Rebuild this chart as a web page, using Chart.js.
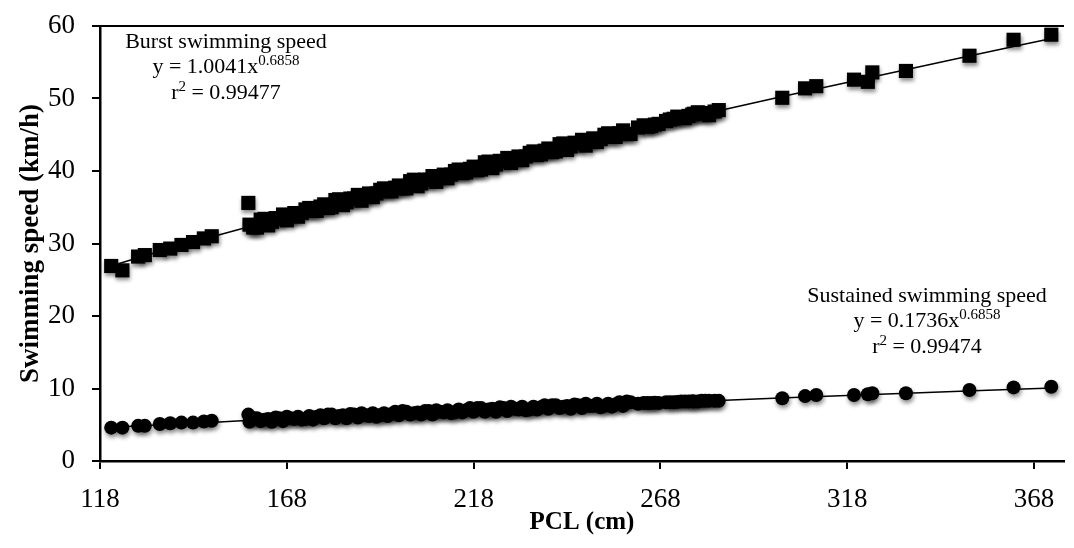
<!DOCTYPE html>
<html>
<head>
<meta charset="utf-8">
<script src="https://cdn.jsdelivr.net/npm/chart.js@4.4.1/dist/chart.umd.min.js"></script>
<style>
  html, body { margin: 0; padding: 0; background: #fff; }
</style>
</head>
<body>
<canvas id="chart" width="1074" height="548"></canvas>
<script>
// ═══ DATA ═══
// PCL of each fish, cm
const pcl = [
  121, 124, 128.2, 130, 134, 136.8, 139.8, 142.9, 145.8, 147.9, 157.7,
  158, 160, 162, 164, 166, 168, 170, 172, 174, 176, 178, 180, 182, 184, 186, 188, 190,
  192, 194, 196, 198, 200, 202, 204, 206, 208, 210, 212, 214, 216, 218, 220, 222, 224,
  226, 228, 230, 232, 234, 236, 238, 240, 242, 244, 246, 248, 250, 252, 254, 256, 258, 260,
  159, 161, 163, 165, 167, 169, 171, 173, 175, 177, 179, 181, 183, 185, 187, 189, 191,
  193, 195, 197, 199, 201, 203, 205, 207, 209, 211, 213, 215, 217, 219, 221, 223, 225,
  227, 229, 231, 233, 235, 237, 239, 241, 243, 245, 247, 249, 251, 253, 255, 257, 259,
  262, 263.5, 264.5, 265.5, 266.5, 267.5, 269.5, 270.5, 271.5, 272.5, 273.5, 274.5, 275.5, 276.5,
  277, 278, 279, 280, 281, 282.5, 283.6,
  300.6, 306.7, 309.7, 319.8, 323.5, 324.7, 333.7, 350.7, 362.5, 372.6
];
// burst swimming speed, km/h
const burst = [
  26.9, 26.3, 28.2, 28.4, 29.1, 29.3, 29.8, 30.2, 30.7, 31.0, 35.6,
  32.6, 32.2, 33.4, 33.0, 33.4, 33.2, 34.2, 34.2, 34.9, 34.5, 35.4, 35.0, 36.1, 35.7, 36.2, 35.9, 36.9,
  36.9, 37.6, 37.2, 38.0, 37.6, 38.8, 38.3, 38.8, 38.5, 39.5, 39.5, 40.2, 39.8, 40.6, 40.2, 41.3, 40.9,
  41.3, 41.1, 42.0, 42.0, 42.7, 42.3, 43.1, 42.7, 43.8, 43.4, 43.8, 43.5, 44.5, 44.4, 45.2, 44.7, 45.6, 45.1,
  32.2, 33.3, 32.5, 33.5, 34.0, 33.8, 33.7, 34.7, 34.5, 35.1, 34.9, 36.0, 35.3, 36.2, 36.7, 36.5, 36.4,
  37.4, 37.2, 37.7, 37.6, 38.6, 37.9, 38.8, 39.3, 39.1, 39.0, 40.0, 39.7, 40.3, 40.1, 41.2, 40.4, 41.4,
  41.8, 41.6, 41.5, 42.5, 42.2, 42.8, 42.6, 43.7, 42.9, 43.9, 44.3, 44.1, 44.0, 45.0, 44.7, 45.2, 45.1,
  46.0, 46.3, 46.1, 46.2, 46.4, 46.5, 46.9, 47.1, 47.2, 47.5, 47.4, 47.3, 47.6, 47.8,
  47.9, 48.1, 48.0, 47.9, 47.7, 48.2, 48.4,
  50.1, 51.4, 51.7, 52.6, 52.3, 53.6, 53.8, 55.9, 58.1, 58.8
];
// sustained swimming speed, km/h
const sustained = [
  4.6, 4.6, 4.85, 4.85, 5.1, 5.2, 5.3, 5.3, 5.45, 5.55, 6.4,
  5.4, 5.9, 5.7, 5.4, 5.9, 6.1, 5.8, 5.7, 6.2, 6.1, 5.9, 6.4, 6.2, 5.9, 6.4, 6.6, 6.2,
  6.1, 6.6, 6.5, 6.3, 6.8, 6.6, 6.4, 6.9, 7.0, 6.7, 6.6, 7.1, 7.0, 6.8, 7.3, 7.1, 6.8,
  7.3, 7.5, 7.1, 7.0, 7.5, 7.4, 7.2, 7.7, 7.5, 7.2, 7.7, 7.9, 7.6, 7.4, 7.9, 7.8, 7.6, 8.1,
  5.9, 5.5, 5.8, 6.0, 5.5, 5.9, 6.1, 5.8, 5.7, 6.3, 6.4, 5.9, 6.3, 6.5, 6.0, 6.3, 6.6,
  6.3, 6.2, 6.8, 6.9, 6.4, 6.7, 6.9, 6.4, 6.8, 7.0, 6.7, 6.7, 7.3, 7.3, 6.8, 7.2, 7.4,
  6.9, 7.2, 7.5, 7.1, 7.1, 7.7, 7.7, 7.3, 7.6, 7.8, 7.3, 7.6, 7.9, 7.6, 7.5, 8.1, 8.2,
  7.9, 8.0, 8.0, 8.0, 8.05, 8.0, 8.1, 8.1, 8.1, 8.15, 8.2, 8.2, 8.2, 8.25,
  8.2, 8.2, 8.3, 8.3, 8.3, 8.3, 8.3,
  8.65, 8.95, 9.1, 9.1, 9.2, 9.35, 9.35, 9.8, 10.15, 10.25
];

// trend lines
const fitX = [121, 130, 140, 150, 160, 180, 200, 225, 250, 275, 300, 325, 350, 373];
const burstFit = [26.9, 28.3, 29.8, 31.2, 32.6, 35.4, 38.0, 41.2, 44.3, 47.3, 50.2, 53.0, 55.8, 58.3];
const sustainedFit = [4.65, 4.89, 5.15, 5.39, 5.64, 6.11, 6.57, 7.12, 7.66, 8.17, 8.68, 9.17, 9.65, 10.08];

const xTicks = [118, 168, 218, 268, 318, 368];
const yTicks = [0, 10, 20, 30, 40, 50, 60];

const pts = (xs, ys) => xs.map((x, i) => ({ x: x, y: ys[i] }));

// ═══ PLUGINS ═══
// soft drop shadow under the markers
const markerShadow = {
  id: 'markerShadow',
  beforeDatasetDraw(chart, args) {
    const ds = chart.data.datasets[args.index];
    if (!ds.shadow) return;
    const ctx = chart.ctx;
    ctx.save();
    ctx.shadowColor = 'rgba(0,0,0,0.45)';
    ctx.shadowBlur = 4;
    ctx.shadowOffsetX = 1;
    ctx.shadowOffsetY = 3;
  },
  afterDatasetDraw(chart, args) {
    const ds = chart.data.datasets[args.index];
    if (ds.shadow) chart.ctx.restore();
  }
};

// text with superscripts, centred on cx
function drawParts(ctx, cx, base, parts) {
  const mainFont = '22px "Liberation Serif", serif';
  const supFont = '15px "Liberation Serif", serif';
  let total = 0;
  parts.forEach(p => {
    ctx.font = p.sup ? supFont : mainFont;
    p.w = ctx.measureText(p.t).width;
    total += p.w;
  });
  let x = cx - total / 2;
  parts.forEach(p => {
    ctx.font = p.sup ? supFont : mainFont;
    ctx.fillText(p.t, x, p.sup ? base - 8 : base);
    x += p.w;
  });
}

// top frame line + equation labels
const notes = {
  id: 'notes',
  afterDraw(chart) {
    const { ctx, chartArea } = chart;
    ctx.save();
    ctx.strokeStyle = '#000';
    ctx.lineWidth = 2;
    ctx.beginPath();
    ctx.moveTo(chartArea.left - 1, chartArea.top);
    ctx.lineTo(chartArea.right, chartArea.top);
    ctx.stroke();

    ctx.fillStyle = '#000';
    ctx.textAlign = 'left';
    ctx.textBaseline = 'alphabetic';
    drawParts(ctx, 226, 48, [{ t: 'Burst swimming speed' }]);
    drawParts(ctx, 226, 73, [{ t: 'y = 1.0041x' }, { t: '0.6858', sup: true }]);
    drawParts(ctx, 226, 99, [{ t: 'r' }, { t: '2', sup: true }, { t: ' = 0.99477' }]);

    drawParts(ctx, 927, 302, [{ t: 'Sustained swimming speed' }]);
    drawParts(ctx, 927, 327, [{ t: 'y = 0.1736x' }, { t: '0.6858', sup: true }]);
    drawParts(ctx, 927, 353, [{ t: 'r' }, { t: '2', sup: true }, { t: ' = 0.99474' }]);
    ctx.restore();
  }
};

// ═══ CHART ═══
new Chart(document.getElementById('chart'), {
  type: 'scatter',
  data: {
    datasets: [
      {
        label: 'Burst fit', type: 'line', data: pts(fitX, burstFit),
        borderColor: '#000', borderWidth: 1.5, pointRadius: 0,
        cubicInterpolationMode: 'monotone', fill: false, order: 0
      },
      {
        label: 'Sustained fit', type: 'line', data: pts(fitX, sustainedFit),
        borderColor: '#000', borderWidth: 1.5, pointRadius: 0,
        cubicInterpolationMode: 'monotone', fill: false, order: 0
      },
      {
        label: 'Burst swimming speed', data: pts(pcl, burst), shadow: true,
        pointStyle: 'rect', pointRadius: 10, backgroundColor: '#000',
        borderColor: '#000', borderWidth: 0, order: 1
      },
      {
        label: 'Sustained swimming speed', data: pts(pcl, sustained), shadow: true,
        pointStyle: 'circle', pointRadius: 7, backgroundColor: '#000',
        borderColor: '#000', borderWidth: 0, order: 1
      }
    ]
  },
  options: {
    responsive: false,
    animation: false,
    layout: { padding: { top: 26, right: -1, left: 0, bottom: 0 } },
    plugins: { legend: { display: false }, tooltip: { enabled: false } },
    scales: {
      x: {
        type: 'linear', min: 118, max: 376,
        afterBuildTicks: s => { s.ticks = xTicks.map(v => ({ value: v })); },
        afterFit: s => { s.height = 87; s.paddingLeft = 0; s.paddingRight = 0; },
        grid: { drawOnChartArea: false, drawTicks: true, tickLength: 8, color: '#000', lineWidth: 2 },
        border: { display: true, color: '#000', width: 2.5 },
        ticks: { color: '#000', padding: 15, font: { family: '"Liberation Serif", serif', size: 27 } },
        title: {
          display: true, text: 'PCL (cm)', color: '#000',
          padding: { top: 0, bottom: 10 },
          font: { family: '"Liberation Serif", serif', size: 25, weight: 'bold' }
        }
      },
      y: {
        type: 'linear', min: 0, max: 60,
        afterBuildTicks: s => { s.ticks = yTicks.map(v => ({ value: v })); },
        afterFit: s => { s.width = 100; s.paddingTop = 0; s.paddingBottom = 0; },
        grid: { drawOnChartArea: false, drawTicks: true, tickLength: 8, color: '#000', lineWidth: 2 },
        border: { display: true, color: '#000', width: 2.5 },
        ticks: { color: '#000', padding: 17, font: { family: '"Liberation Serif", serif', size: 27 } },
        title: {
          display: true, text: 'Swimming speed (km/h)', color: '#000',
          padding: { top: 15, bottom: 0 },
          font: { family: '"Liberation Serif", serif', size: 27, weight: 'bold' }
        }
      }
    }
  },
  plugins: [markerShadow, notes]
});
</script>
</body>
</html>
